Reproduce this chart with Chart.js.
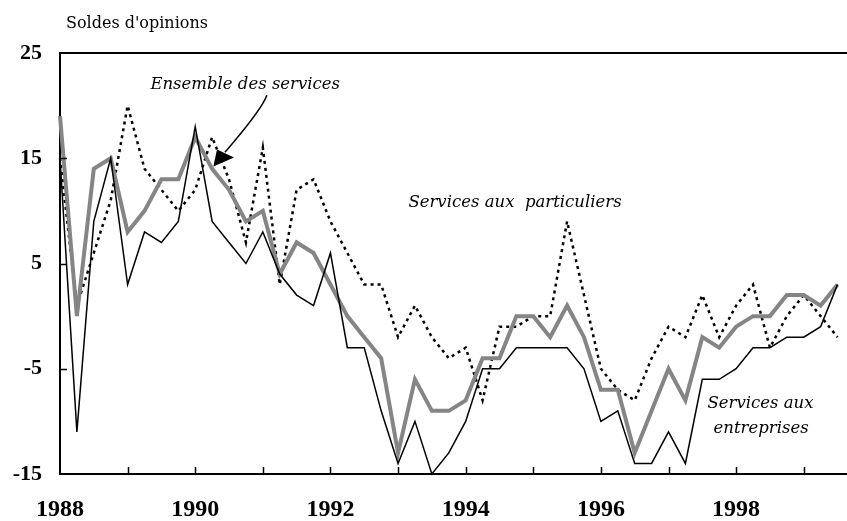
<!DOCTYPE html>
<html lang="fr">
<head>
<meta charset="UTF-8">
<title>Soldes d'opinions - services</title>
<style>
  html, body { margin: 0; padding: 0; background: #fff; }
  #chart { display: block; }
</style>
</head>
<body>
<canvas id="chart" width="847" height="521"></canvas>
<script src="https://cdn.jsdelivr.net/npm/chart.js"></script>
<script>
// trimestres de 1988T1 a 1999T3
const firstYear = 1988;
const yearTicks = [1988, 1989, 1990, 1991, 1992, 1993, 1994, 1995, 1996, 1997, 1998, 1999];
const yearLabels = [1988, 1990, 1992, 1994, 1996, 1998];
const yTicks = [-15, -5, 5, 15, 25];

const ensemble = [19, 0, 14, 15, 8, 10, 13, 13, 17, 14, 12, 9, 10, 4, 7, 6, 3, 0, -2, -4,
  -13, -6, -9, -9, -8, -4, -4, 0, 0, -2, 1, -2, -7, -7, -13, -9, -5, -8, -2, -3,
  -1, 0, 0, 2, 2, 1, 3];
const entreprises = [15, -11, 9, 15, 3, 8, 7, 9, 18, 9, 7, 5, 8, 4, 2, 1, 6, -3, -3, -9,
  -14, -10, -15, -13, -10, -5, -5, -3, -3, -3, -3, -5, -10, -9, -14, -14, -11, -14, -6, -6,
  -5, -3, -3, -2, -2, -1, 3];
const particuliers = [15, 1, 6, 11, 20, 14, 12, 10, 12, 17, 13, 7, 16, 3, 12, 13, 9, 6, 3, 3,
  -2, 1, -2, -4, -3, -8, -1, -1, 0, 0, 9, 2, -5, -7, -8, -4, -1, -2, 2, -2,
  1, 3, -3, 0, 2, 0, -2];

// etiquettes dans le graphique (coordonnees en annees / points)
const notes = [
  { text: 'Ensemble des services', x: 1990.74, y: 22.0 },
  { text: 'Services aux  particuliers', x: 1994.73, y: 10.8 },
  { text: 'Services aux', x: 1998.36, y: -8.3 },
  { text: 'entreprises', x: 1998.37, y: -10.7 }
];

const toPoints = arr => arr.map((v, i) => ({ x: firstYear + i / 4, y: v }));

const serif = "'Liberation Serif', 'Times New Roman', serif";
const dejavu = "'DejaVu Serif', serif";

const decor = {
  id: 'decor',
  afterDatasetsDraw(chart) {
    const { ctx, chartArea: a, scales: { x, y } } = chart;
    ctx.save();
    ctx.strokeStyle = '#000';
    // cadre du haut
    ctx.lineWidth = 2;
    ctx.beginPath();
    ctx.moveTo(a.left - 1, a.top);
    ctx.lineTo(chart.width, a.top);
    ctx.stroke();
    // graduations vers l'interieur
    ctx.lineWidth = 1.5;
    yearTicks.slice(1).forEach(t => {
      const px = Math.round(x.getPixelForValue(t)) + 0.5;
      ctx.beginPath();
      ctx.moveTo(px, a.bottom);
      ctx.lineTo(px, a.bottom - 7);
      ctx.stroke();
    });
    yTicks.slice(1, -1).forEach(t => {
      const py = Math.round(y.getPixelForValue(t)) + 0.5;
      ctx.beginPath();
      ctx.moveTo(a.left, py);
      ctx.lineTo(a.left + 7, py);
      ctx.stroke();
    });

    // titre de l'axe
    ctx.fillStyle = '#000';
    ctx.font = '16px ' + dejavu;
    ctx.textAlign = 'left';
    ctx.textBaseline = 'middle';
    ctx.fillText("Soldes d'opinions", a.left + 6, a.top - 29);

    // annotations
    ctx.font = 'italic 16.5px ' + dejavu;
    ctx.textAlign = 'center';
    notes.forEach(n => {
      ctx.fillText(n.text, x.getPixelForValue(n.x), y.getPixelForValue(n.y));
    });

    // fleche vers "Ensemble des services"
    const P = (xv, yv) => [x.getPixelForValue(xv), y.getPixelForValue(yv)];
    const s = P(1991.06, 20.98), c1 = P(1991.0, 19.9), c2 = P(1990.74, 17.8), e = P(1990.44, 15.56);
    ctx.lineWidth = 1.5;
    ctx.beginPath();
    ctx.moveTo(s[0], s[1]);
    ctx.bezierCurveTo(c1[0], c1[1], c2[0], c2[1], e[0], e[1]);
    ctx.stroke();
    const tip = P(1990.268, 14.22), b1 = P(1990.322, 15.84), b2 = P(1990.574, 15.08);
    ctx.beginPath();
    ctx.moveTo(tip[0], tip[1]);
    ctx.lineTo(b1[0], b1[1]);
    ctx.lineTo(b2[0], b2[1]);
    ctx.closePath();
    ctx.fill();
    ctx.restore();
  }
};

new Chart(document.getElementById('chart'), {
  type: 'line',
  data: {
    datasets: [
      {
        label: 'Services aux entreprises',
        data: toPoints(entreprises),
        borderColor: '#000',
        borderWidth: 1.5
      },
      {
        label: 'Ensemble des services',
        data: toPoints(ensemble),
        borderColor: '#858585',
        borderWidth: 4
      },
      {
        label: 'Services aux particuliers',
        data: toPoints(particuliers),
        borderColor: '#000',
        borderWidth: 2.5,
        borderDash: [3, 4]
      }
    ]
  },
  options: {
    responsive: false,
    animation: false,
    clip: false,
    elements: {
      point: { radius: 0 },
      line: { tension: 0, borderJoinStyle: 'miter' }
    },
    layout: { padding: { top: 53, right: 0, left: 0, bottom: 0 } },
    plugins: {
      legend: { display: false },
      tooltip: { enabled: false }
    },
    scales: {
      x: {
        type: 'linear',
        min: 1988,
        max: 1999.64,
        afterFit: s => { s.height = 47; },
        afterBuildTicks: s => { s.ticks = yearTicks.map(v => ({ value: v })); },
        grid: { display: false },
        border: { display: true, color: '#000', width: 2 },
        ticks: {
          autoSkip: false,
          maxRotation: 0,
          padding: 13,
          color: '#000',
          font: { family: serif, size: 24, weight: 'bold' },
          callback: v => yearLabels.includes(v) ? String(v) : ''
        }
      },
      y: {
        min: -15,
        max: 25,
        afterFit: s => { s.width = 60; },
        afterBuildTicks: s => { s.ticks = yTicks.map(v => ({ value: v })); },
        grid: { display: false },
        border: { display: true, color: '#000', width: 2 },
        ticks: {
          padding: 10,
          color: '#000',
          font: { family: serif, size: 22, weight: 'bold' }
        }
      }
    }
  },
  plugins: [decor]
});
</script>
</body>
</html>
